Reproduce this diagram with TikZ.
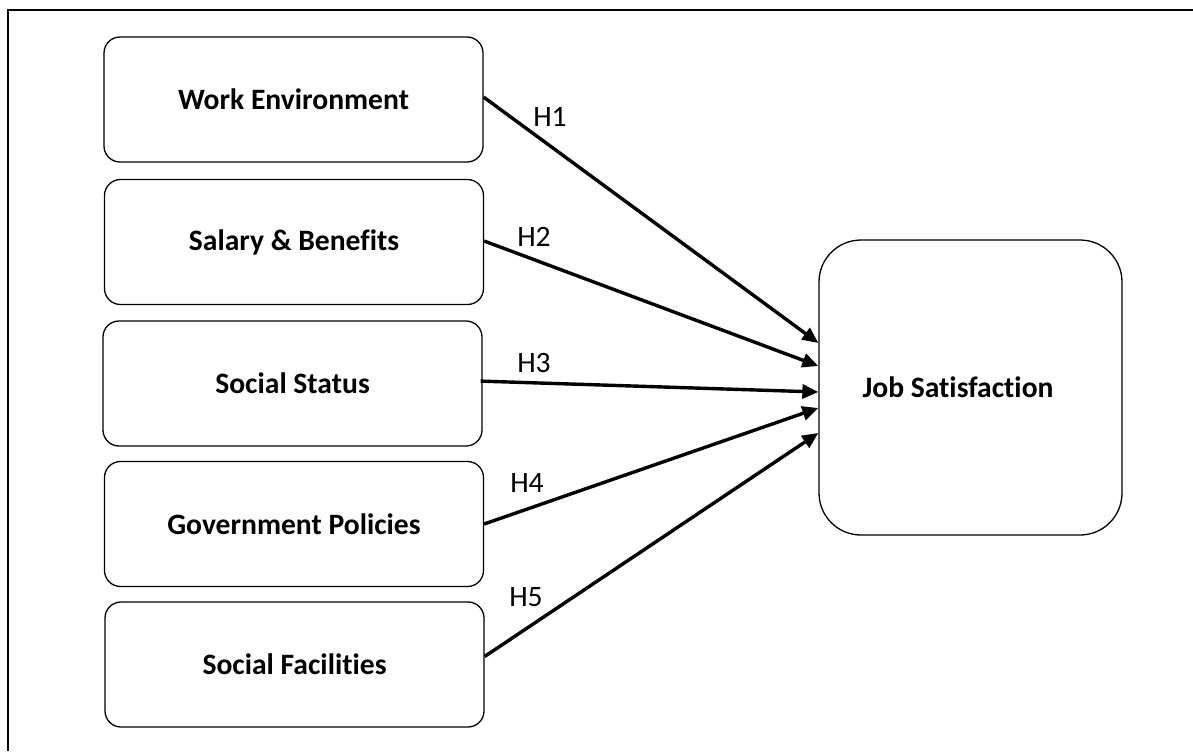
\documentclass[tikz,border=0pt]{standalone}
\usepackage{fontspec}
\setmainfont{Carlito}[Ligatures=NoCommon]
\usetikzlibrary{arrows.meta,calc}
\begin{document}
\begin{tikzpicture}[x=0.5pt,y=-0.5pt,
  varbox/.style={draw, line width=0.65pt, rounded corners=8pt, minimum width=189.5pt, minimum height=62.5pt, inner sep=0pt, font=\fontsize{14.8}{17}\selectfont\bfseries},
  outbox/.style={draw, line width=0.65pt, rounded corners=21pt, minimum width=151.5pt, minimum height=147.5pt, inner sep=0pt},
  hyp/.style={-{Triangle[length=8pt,width=7pt]}, line width=1.7pt},
  hlabel/.style={font=\fontsize{14.8}{17}\selectfont, inner sep=0pt}]
\useasboundingbox (0,0) rectangle (1193,751);
\fill[white] (0,0) rectangle (1193,751);
% outer frame (top and left edges visible)
\draw[line width=1.1pt] (1193,10) -- (8,10) -- (8,751);
% predictor boxes
\node[varbox] (we) at (293.5,99.5) {Work Environment};
\node[varbox] (sb) at (294,242) {Salary \& Benefits};
\node[varbox] (ss) at (292.5,383.5) {Social Status};
\node[varbox] (gp) at (294,524) {Government Policies};
\node[varbox] (sf) at (294.5,664.5) {Social Facilities};
% outcome box
\node[outbox] (js) at (970.5,387.5) {};
\node[font=\fontsize{14.8}{17}\selectfont\bfseries, inner sep=0pt] (jst) at (958,387) {Job Satisfaction};
% hypotheses
\draw[hyp] ([yshift=1.2pt]we.east) -- ([yshift=22.25pt]js.west);
\draw[hyp] ([yshift=0.5pt]sb.east) -- ([yshift=10.75pt]js.west);
\draw[hyp] ([xshift=-1pt,yshift=1.2pt]ss.east) -- ([yshift=-2.25pt]js.west);
\draw[hyp] (gp.east) -- ([yshift=-10.25pt]js.west);
\draw[hyp] ([yshift=4pt]sf.east) -- ([yshift=-22.75pt]js.west);
% labels
\node[hlabel] (h1) at (550,117) {H1};
\node[hlabel] (h2) at (534,237) {H2};
\node[hlabel] (h3) at (534,363) {H3};
\node[hlabel] (h4) at (527,483) {H4};
\node[hlabel] (h5) at (526,597) {H5};
\end{tikzpicture}
\end{document}
